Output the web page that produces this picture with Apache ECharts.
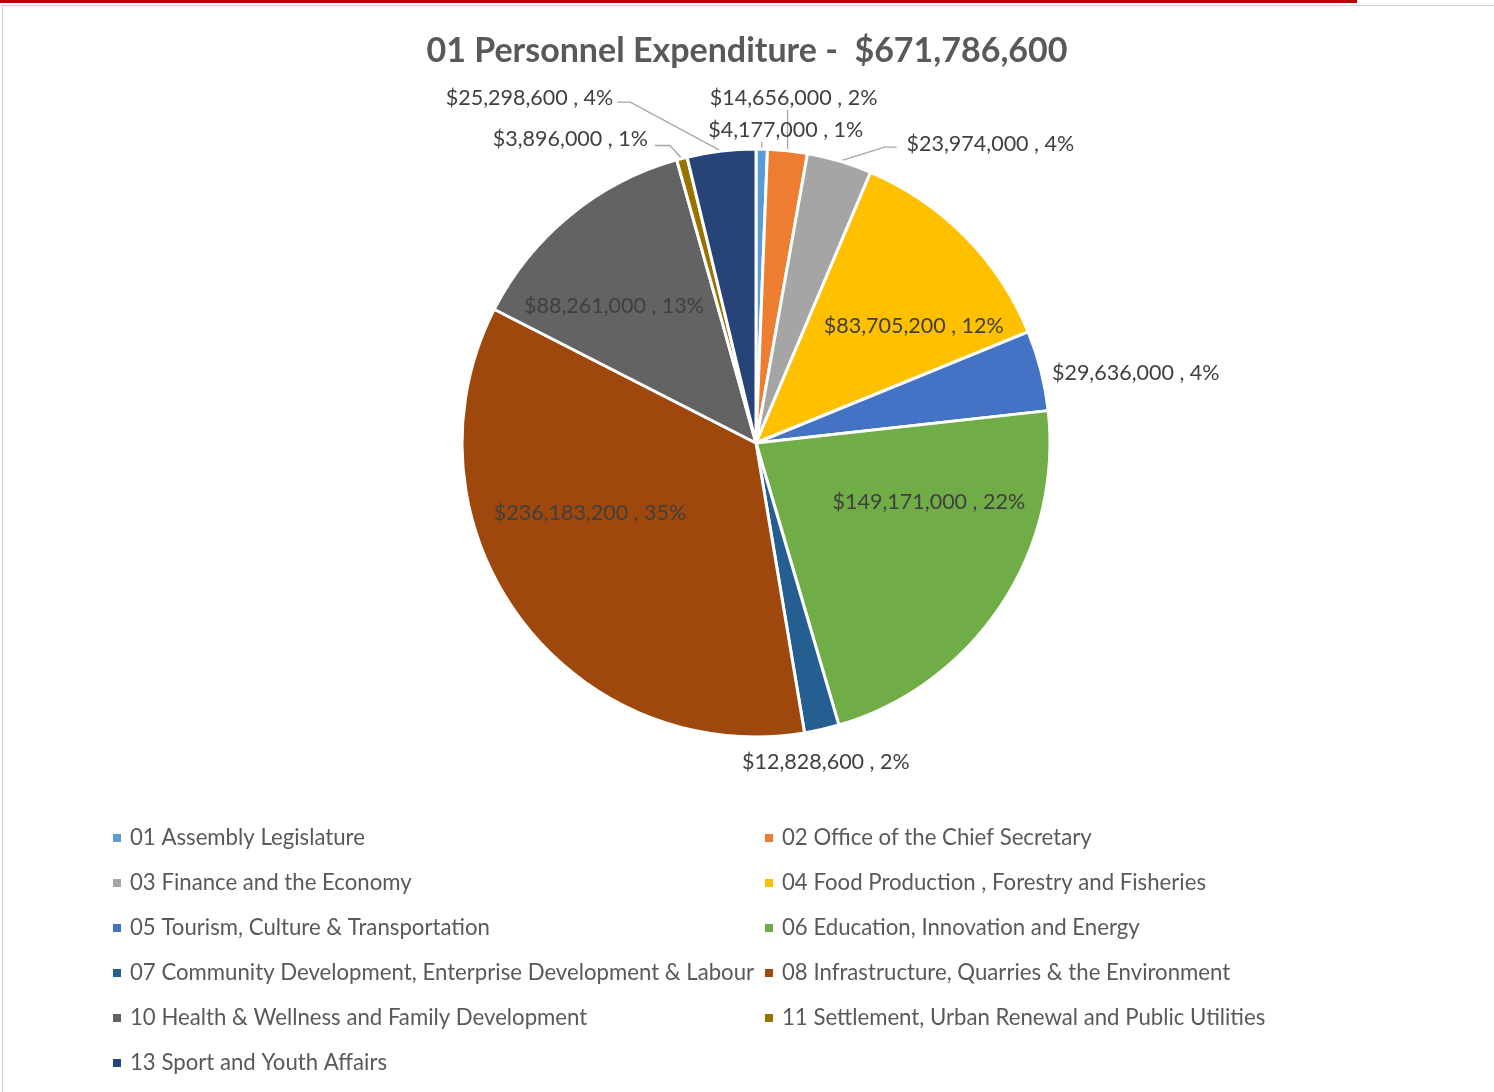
<!DOCTYPE html>
<html>
<head>
<meta charset="utf-8">
<title>01 Personnel Expenditure</title>
<script src="https://cdn.jsdelivr.net/npm/echarts@6/dist/echarts.min.js"></script>
<style>
  html, body { margin: 0; padding: 0; background: #fff; }
  #chart { width: 1494px; height: 1092px; }
</style>
</head>
<body>
<div id="chart"></div>
<script>
// categories (ministries) and their personnel expenditure
var ministries = [
  '01 Assembly Legislature',
  '02 Office of the Chief Secretary',
  '03 Finance and the Economy',
  '04 Food Production , Forestry and Fisheries',
  '05 Tourism, Culture & Transportation',
  '06 Education, Innovation and Energy',
  '07 Community Development, Enterprise Development & Labour',
  '08 Infrastructure, Quarries & the Environment',
  '10 Health & Wellness and Family Development',
  '11 Settlement, Urban Renewal and Public Utilities',
  '13 Sport and Youth Affairs'
];
var amounts = [4177000, 14656000, 23974000, 83705200, 29636000, 149171000,
  12828600, 236183200, 88261000, 3896000, 25298600];
var sliceColors = ['#5B9BD5', '#ED7D31', '#A5A5A5', '#FFC000', '#4472C4', '#70AD47',
  '#255E91', '#9E480E', '#636363', '#997300', '#264478'];

// label placement, Excel "best fit" style
// inside: nudge from the default inside spot
// outside: offsets from the slice edge point (bend, end of leader, label anchor)
var labelSpots = {
  0: { align: 'center', lx: 24, ly: -19, line: [[0, -7]] },
  1: { align: 'center', lx: 6, ly: -53, line: [[0, -41]] },
  2: { align: 'left', lx: 67, ly: -17, line: [[45, -14], [57, -14]] },
  3: { inside: true, dx: 51, dy: -12 },
  4: { align: 'left', lx: 11, ly: 2, line: null },
  5: { inside: true, dx: 48, dy: -24 },
  6: { align: 'center', lx: 4, ly: 33, line: null },
  7: { inside: true, dx: -45, dy: -19 },
  8: { inside: true, dx: -47, dy: -21 },
  9: { align: 'right', lx: -34, ly: -19, line: [[-12, -13], [-27, -13]] },
  10: { align: 'right', lx: -108, ly: -53, line: [[-91, -49], [-104, -49]] }
};

var total = amounts.reduce(function (a, b) { return a + b; }, 0);
var fontFam = 'Lato, "Open Sans", sans-serif';

var pieData = ministries.map(function (name, i) {
  var item = { name: name, value: amounts[i] };
  if (labelSpots[i].inside) {
    item.label = { position: 'inside' };
  }
  return item;
});

var leftLegend = ministries.filter(function (n, i) { return i % 2 === 0; });
var rightLegend = ministries.filter(function (n, i) { return i % 2 === 1; });

var legendBase = {
  orient: 'vertical',
  icon: 'rect',
  itemWidth: 8,
  itemHeight: 8,
  itemGap: 21,
  top: 821,
  selectedMode: false,
  itemStyle: { borderWidth: 0 },
  textStyle: { fontFamily: fontFam, fontSize: 22.2, color: '#595959', lineHeight: 24, padding: [0, 0, 0, 4] }
};

var chart = echarts.init(document.getElementById('chart'));
chart.setOption({
  backgroundColor: '#fff',
  color: sliceColors,
  title: {
    text: '01 Personnel Expenditure -  $' + total.toLocaleString('en-US'),
    left: 'center',
    top: 29,
    textStyle: { fontFamily: fontFam, fontSize: 34, fontWeight: 'bold', color: '#595959' }
  },
  legend: [
    Object.assign({}, legendBase, { left: 108, data: leftLegend }),
    Object.assign({}, legendBase, { left: 760, data: rightLegend })
  ],
  graphic: [
    { type: 'rect', shape: { x: 0, y: 0, width: 1357, height: 3 }, style: { fill: '#C00000' } },
    { type: 'line', shape: { x1: 2, y1: 5.5, x2: 1494, y2: 5.5 }, style: { stroke: '#D0D0D0', lineWidth: 1 } },
    { type: 'line', shape: { x1: 2.5, y1: 5, x2: 2.5, y2: 1092 }, style: { stroke: '#D0D0D0', lineWidth: 1 } }
  ],
  series: [{
    type: 'pie',
    center: [756, 443],
    radius: 294,
    startAngle: 90,
    clockwise: true,
    avoidLabelOverlap: false,
    itemStyle: { borderColor: '#fff', borderWidth: 3 },
    label: {
      show: true,
      fontFamily: fontFam,
      fontSize: 21.5,
      color: '#404040',
      formatter: function (p) {
        return '$' + p.value.toLocaleString('en-US') + ' , ' + Math.round(p.percent) + '%';
      }
    },
    labelLine: { show: true, length: 12, length2: 12, lineStyle: { color: '#A6A6A6', width: 1.3 } },
    labelLayout: function (p) {
      var s = labelSpots[p.dataIndex];
      var r = p.labelRect;
      if (s.inside) {
        return {
          x: r.x + r.width / 2 + s.dx,
          y: r.y + r.height / 2 + s.dy,
          align: 'center',
          verticalAlign: 'middle'
        };
      }
      var e = p.labelLinePoints[0];
      var pts = [[e[0], e[1]]];
      (s.line || [[0, 0]]).forEach(function (d) { pts.push([e[0] + d[0], e[1] + d[1]]); });
      if (pts.length < 3) pts.push(pts[pts.length - 1].slice());
      return {
        x: e[0] + s.lx,
        y: e[1] + s.ly,
        align: s.align,
        verticalAlign: 'middle',
        labelLinePoints: s.line ? pts : [pts[0], pts[0], pts[0]]
      };
    },
    data: pieData
  }]
});
</script>
</body>
</html>
